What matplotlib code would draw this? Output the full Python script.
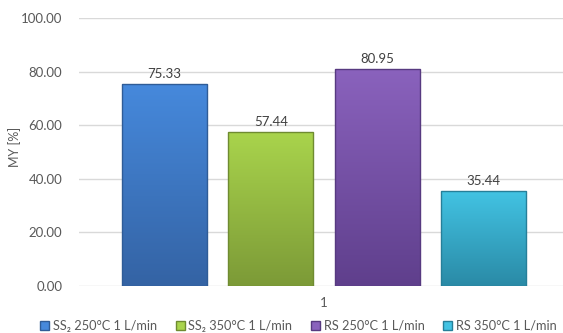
import numpy as np
import matplotlib.pyplot as plt
from matplotlib.colors import LinearSegmentedColormap
from matplotlib.patches import Patch

plt.rcParams['font.family'] = ['Lato', 'DejaVu Sans']

series = ["SS₂ 250°C 1 L/min", "SS₂ 350°C 1 L/min", "RS 250°C 1 L/min", "RS 350°C 1 L/min"]
values = [75.33, 57.44, 80.95, 35.44]
category = "1"

# (top, bottom) shades for each bar gradient
shades = [("#4689dc", "#3463a4"),
          ("#a9d44c", "#7c9a37"),
          ("#8a62bd", "#5f3f8c"),
          ("#42c3e3", "#2a8aa6")]
edges = ["#2f5c97", "#6f8b31", "#573a80", "#267f99"]

txt = "#595959"

fig = plt.figure(figsize=(5.63, 3.33), dpi=100)
ax = fig.add_axes([79 / 563, 47 / 333, 491 / 563, 268 / 333])

x = np.arange(len(values))
w = 0.8
bars = ax.bar(x, values, width=w, color="none", edgecolor="none", zorder=3)

grad = np.linspace(1, 0, 256).reshape(-1, 1)
for b, (top, bot), ec in zip(bars, shades, edges):
    cmap = LinearSegmentedColormap.from_list("g", [bot, top])
    x0, y0 = b.get_x(), b.get_y()
    bw, bh = b.get_width(), b.get_height()
    im = ax.imshow(grad, cmap=cmap, extent=[x0, x0 + bw, y0, y0 + bh],
                   aspect="auto", zorder=3, origin="upper")
    im.set_clip_path(b)
    ax.add_patch(plt.Rectangle((x0, y0), bw, bh, fill=False, ec=ec, lw=1.0, zorder=4))
    ax.text(b.get_x() + bw / 2, bh + 1.5, f"{bh:.2f}", ha="center", va="bottom",
            fontsize=9.5, color="#404040", zorder=5)

ax.set_xlim(-0.803, 3.81)
ax.set_ylim(0, 100)
ax.set_yticks(np.arange(0, 101, 20))
ax.set_yticklabels([f"{v:.2f}" for v in np.arange(0, 101, 20)])
ax.set_xticks([1.5])
ax.set_xticklabels([category])
ax.tick_params(axis="both", length=0, colors=txt, labelsize=9.5)
ax.tick_params(axis="y", pad=12)
ax.tick_params(axis="x", pad=8)
ax.yaxis.grid(True, color="#d9d9d9", lw=1)
ax.set_axisbelow(True)
for s in ax.spines.values():
    s.set_visible(False)
ax.set_ylabel("MY [%]", color=txt, fontsize=9)
ax.yaxis.set_label_coords(-(79 - 21) / 491, 0.52)

handles = [Patch(facecolor=top, edgecolor=ec) for (top, bot), ec in zip(shades, edges)]
fig.legend(handles, series, loc="center", bbox_to_anchor=(0.53, 7 / 333), ncol=4,
           frameon=False, fontsize=9.2, handlelength=0.7, handleheight=0.7,
           handletextpad=0.3, columnspacing=1.45, labelcolor=txt,
           borderpad=0, borderaxespad=0)

fig.savefig("out.png", dpi=100)
